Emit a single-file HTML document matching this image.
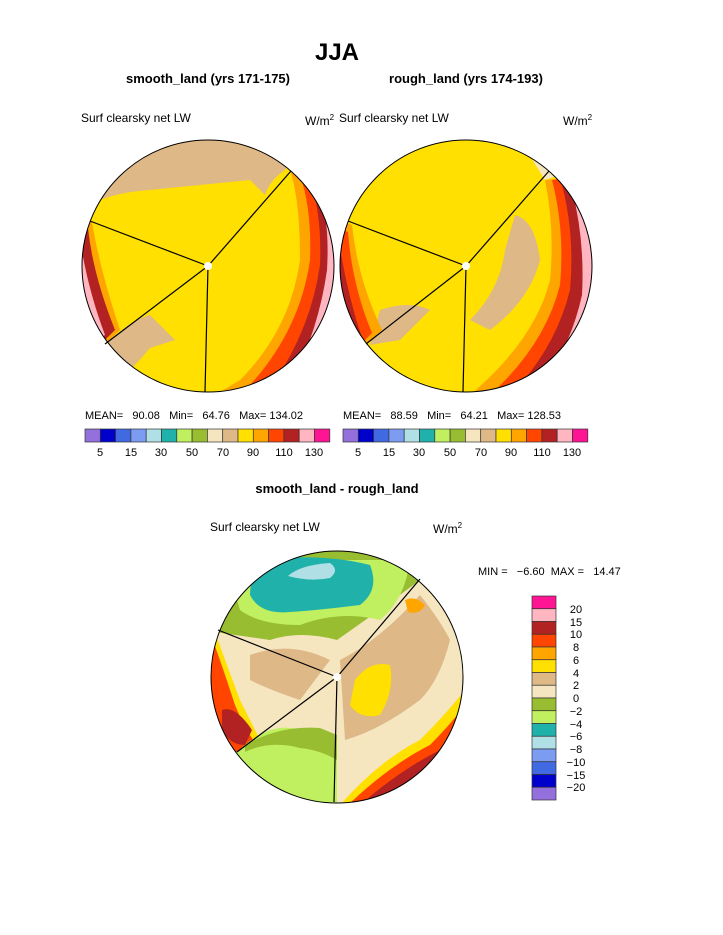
<!DOCTYPE html>
<html><head><style>
body{margin:0;background:#fff;width:723px;height:935px;overflow:hidden;font-family:"Liberation Sans",sans-serif}
svg{position:absolute;left:0;top:0}
.pre{white-space:pre}
</style></head><body>
<svg width="723" height="935" viewBox="0 0 723 935" font-family="Liberation Sans, sans-serif">
<defs>
<clipPath id="cL"><circle cx="208" cy="266" r="126"/></clipPath>
<clipPath id="cR"><circle cx="466" cy="266" r="126"/></clipPath>
<clipPath id="cB"><circle cx="337" cy="677" r="126"/></clipPath>
</defs>
<text x="337" y="60" font-size="24" font-weight="bold" text-anchor="middle">JJA</text>
<text x="208" y="83" font-size="13" font-weight="bold" text-anchor="middle">smooth_land (yrs 171-175)</text>
<text x="466" y="83" font-size="13" font-weight="bold" text-anchor="middle">rough_land (yrs 174-193)</text>
<text x="81" y="122" font-size="12">Surf clearsky net LW</text>
<text x="305" y="125" font-size="12">W/m<tspan font-size="8" dy="-5">2</tspan></text>
<text x="339" y="122" font-size="12">Surf clearsky net LW</text>
<text x="563" y="125" font-size="12">W/m<tspan font-size="8" dy="-5">2</tspan></text>

<!-- left map -->
<g clip-path="url(#cL)">
<rect x="80" y="138" width="260" height="260" fill="#FFE000"/>
<path d="M80,138 H300 L285,170 Q270,180 265,195 L250,180 Q200,185 150,190 Q120,192 100,200 L80,210 Z" fill="#DEB887"/>
<path d="M290,170 Q300,200 300,260 Q290,330 240,380 L215,395 L340,395 V170 Z" fill="#FFA500"/>
<path d="M300,175 Q312,210 310,260 Q300,330 250,385 L230,395 L340,395 V170 Z" fill="#FF4500"/>
<path d="M310,180 Q322,215 320,265 Q310,335 265,395 L340,395 V175 Z" fill="#B22222"/>
<path d="M318,185 Q330,220 327,270 Q318,335 285,395 L340,395 V180 Z" fill="#FFB6C1"/>
<path d="M326,205 Q336,240 334,290 Q325,345 305,395 L340,395 V200 Z" fill="#FF1493"/>
<path d="M80,220 L92,222 Q100,270 120,330 L105,345 L80,345 Z" fill="#FFA500"/>
<path d="M80,225 L88,228 Q93,275 115,330 L100,345 L80,345 Z" fill="#B22222"/>
<path d="M80,240 Q88,290 105,335 L90,345 L80,345 Z" fill="#FFB6C1"/>
<path d="M105,345 Q130,320 150,315 L175,340 L150,348 Q140,360 130,370 L108,350 Z" fill="#DEB887"/>
</g>
<circle cx="208" cy="266" r="126" fill="none" stroke="#000" stroke-width="1"/>
<g stroke="#000" stroke-width="1.2"><line x1="208" y1="266" x2="90" y2="221"/><line x1="208" y1="266" x2="291" y2="171"/><line x1="208" y1="266" x2="205" y2="392"/><line x1="208" y1="266" x2="105" y2="344"/></g>
<circle cx="208" cy="266" r="4" fill="#fff"/>

<!-- right map -->
<g clip-path="url(#cR)">
<rect x="338" y="138" width="260" height="260" fill="#FFE000"/>
<path d="M520,140 L560,140 L560,175 L545,180 Z" fill="#F5E6C0"/>
<path d="M515,215 Q535,220 540,260 Q530,300 490,330 L470,320 Q500,290 505,250 Z" fill="#DEB887"/>
<path d="M380,310 Q410,300 430,310 L400,340 L370,345 Z" fill="#DEB887"/>
<path d="M545,180 Q555,230 550,280 Q535,340 470,395 L600,395 V175 Z" fill="#FFA500"/>
<path d="M552,180 Q565,230 560,285 Q545,345 490,395 L600,395 V175 Z" fill="#FF4500"/>
<path d="M562,185 Q575,235 570,290 Q555,350 510,395 L600,395 V180 Z" fill="#B22222"/>
<path d="M572,190 Q585,240 582,295 Q570,350 535,395 L600,395 V185 Z" fill="#FFB6C1"/>
<path d="M338,220 L352,225 Q358,280 382,330 L365,345 L338,345 Z" fill="#FFA500"/>
<path d="M338,228 L348,232 Q352,285 372,333 L360,345 L338,345 Z" fill="#FF4500"/>
<path d="M338,235 Q346,290 362,338 L350,345 L338,345 Z" fill="#B22222"/>
</g>
<circle cx="466" cy="266" r="126" fill="none" stroke="#000" stroke-width="1"/>
<g stroke="#000" stroke-width="1.2"><line x1="466" y1="266" x2="348" y2="221"/><line x1="466" y1="266" x2="549" y2="171"/><line x1="466" y1="266" x2="463" y2="392"/><line x1="466" y1="266" x2="366" y2="344"/></g>
<circle cx="466" cy="266" r="4" fill="#fff"/>

<!-- stats & colorbars -->
<g font-size="11" fill="#000">
<text class="pre" x="85" y="419">MEAN=   90.08   Min=   64.76   Max= 134.02</text>
<text class="pre" x="343" y="419">MEAN=   88.59   Min=   64.21   Max= 128.53</text>
</g>
<g id="cb1" stroke="#333" stroke-width="0.7">
<rect x="85" y="429" width="15.3" height="13" fill="#9370DB"/><rect x="100.3" y="429" width="15.3" height="13" fill="#0000CD"/><rect x="115.6" y="429" width="15.3" height="13" fill="#4169E1"/><rect x="130.9" y="429" width="15.3" height="13" fill="#7B9CF0"/><rect x="146.2" y="429" width="15.3" height="13" fill="#B0E0E6"/><rect x="161.5" y="429" width="15.3" height="13" fill="#20B2AA"/><rect x="176.8" y="429" width="15.3" height="13" fill="#C0F060"/><rect x="192.1" y="429" width="15.3" height="13" fill="#98BD30"/><rect x="207.4" y="429" width="15.3" height="13" fill="#F5E6C0"/><rect x="222.7" y="429" width="15.3" height="13" fill="#DEB887"/><rect x="238" y="429" width="15.3" height="13" fill="#FFE000"/><rect x="253.3" y="429" width="15.3" height="13" fill="#FFA500"/><rect x="268.6" y="429" width="15.3" height="13" fill="#FF4500"/><rect x="283.9" y="429" width="15.3" height="13" fill="#B22222"/><rect x="299.2" y="429" width="15.3" height="13" fill="#FFB6C1"/><rect x="314.5" y="429" width="15.3" height="13" fill="#FF1493"/>
</g>
<use href="#cb1" x="258"/>
<g font-size="11" text-anchor="middle">
<text x="100" y="456">5</text><text x="131" y="456">15</text><text x="161" y="456">30</text><text x="192" y="456">50</text><text x="223" y="456">70</text><text x="253" y="456">90</text><text x="284" y="456">110</text><text x="314" y="456">130</text>
<text x="358" y="456">5</text><text x="389" y="456">15</text><text x="419" y="456">30</text><text x="450" y="456">50</text><text x="481" y="456">70</text><text x="511" y="456">90</text><text x="542" y="456">110</text><text x="572" y="456">130</text>
</g>

<text x="337" y="493" font-size="13" font-weight="bold" text-anchor="middle">smooth_land - rough_land</text>
<text x="210" y="531" font-size="12">Surf clearsky net LW</text>
<text x="433" y="533" font-size="12">W/m<tspan font-size="8" dy="-5">2</tspan></text>
<text class="pre" x="478" y="575" font-size="11">MIN =   −6.60  MAX =   14.47</text>

<!-- bottom map -->
<g clip-path="url(#cB)">
<rect x="210" y="550" width="255" height="255" fill="#F5E6C0"/>
<path d="M210,550 H430 L420,580 Q380,610 337,640 Q300,630 270,640 L215,632 L210,632 Z" fill="#98BD30"/>
<path d="M225,560 H410 Q405,600 380,620 Q340,610 300,625 Q260,625 240,610 Z" fill="#C0F060"/>
<path d="M250,595 Q250,565 280,558 Q330,555 370,565 Q380,590 360,605 Q320,610 290,612 Q260,615 250,595 Z" fill="#20B2AA"/>
<path d="M288,576 Q300,565 330,563 Q340,570 330,578 Q310,582 288,576 Z" fill="#B0E0E6"/>
<path d="M250,655 Q290,640 330,660 L300,700 Q270,690 250,680 Z" fill="#DEB887"/>
<path d="M340,660 Q380,640 420,595 Q440,620 450,640 Q440,680 420,700 Q380,730 345,740 Z" fill="#DEB887"/>
<path d="M355,680 Q370,660 390,665 Q395,690 380,715 Q360,720 350,705 Z" fill="#FFE000"/>
<path d="M405,600 Q415,595 425,605 Q420,615 408,612 Z" fill="#FFA500"/>
<path d="M215,632 Q225,660 240,700 Q255,730 260,740 L237,752 L210,752 Z" fill="#FFE000"/>
<path d="M212,638 Q222,665 235,705 Q245,730 255,742 L237,752 L210,752 Z" fill="#FF4500"/>
<path d="M222,710 Q235,705 252,730 L245,745 Q230,745 222,730 Z" fill="#B22222"/>
<path d="M237,752 Q270,720 300,730 Q320,725 337,740 L337,805 L210,805 Z" fill="#C0F060"/>
<path d="M245,745 Q280,725 320,728 L337,735 L337,760 Q320,750 300,748 Q270,740 245,752 Z" fill="#98BD30"/>
<path d="M340,805 Q380,760 420,740 Q445,715 465,690 L465,805 Z" fill="#FFE000"/>
<path d="M348,805 Q390,765 430,745 Q450,725 465,705 L465,805 Z" fill="#FF4500"/>
<path d="M360,805 Q400,770 440,750 Q455,735 465,720 L465,805 Z" fill="#B22222"/>
</g>
<circle cx="337" cy="677" r="126" fill="none" stroke="#000" stroke-width="1"/>
<g stroke="#000" stroke-width="1.2"><line x1="337" y1="677" x2="218" y2="630"/><line x1="337" y1="677" x2="420" y2="579"/><line x1="337" y1="677" x2="334" y2="802"/><line x1="337" y1="677" x2="237" y2="752"/></g>
<circle cx="337" cy="677" r="4" fill="#fff"/>

<!-- vertical colorbar -->
<g stroke="#333" stroke-width="0.7">
<rect x="532" y="596" width="24" height="12.75" fill="#FF1493"/><rect x="532" y="608.75" width="24" height="12.75" fill="#FFB6C1"/><rect x="532" y="621.5" width="24" height="12.75" fill="#B22222"/><rect x="532" y="634.25" width="24" height="12.75" fill="#FF4500"/><rect x="532" y="647" width="24" height="12.75" fill="#FFA500"/><rect x="532" y="659.75" width="24" height="12.75" fill="#FFE000"/><rect x="532" y="672.5" width="24" height="12.75" fill="#DEB887"/><rect x="532" y="685.25" width="24" height="12.75" fill="#F5E6C0"/><rect x="532" y="698" width="24" height="12.75" fill="#98BD30"/><rect x="532" y="710.75" width="24" height="12.75" fill="#C0F060"/><rect x="532" y="723.5" width="24" height="12.75" fill="#20B2AA"/><rect x="532" y="736.25" width="24" height="12.75" fill="#B0E0E6"/><rect x="532" y="749" width="24" height="12.75" fill="#7B9CF0"/><rect x="532" y="761.75" width="24" height="12.75" fill="#4169E1"/><rect x="532" y="774.5" width="24" height="12.75" fill="#0000CD"/><rect x="532" y="787.25" width="24" height="12.75" fill="#9370DB"/>
</g>
<g font-size="11" text-anchor="middle">
<text x="576" y="613">20</text><text x="576" y="626">15</text><text x="576" y="638">10</text><text x="576" y="651">8</text><text x="576" y="664">6</text><text x="576" y="677">4</text><text x="576" y="689">2</text><text x="576" y="702">0</text><text x="576" y="715">−2</text><text x="576" y="728">−4</text><text x="576" y="740">−6</text><text x="576" y="753">−8</text><text x="576" y="766">−10</text><text x="576" y="779">−15</text><text x="576" y="791">−20</text>
</g>
</svg>
</body></html>
